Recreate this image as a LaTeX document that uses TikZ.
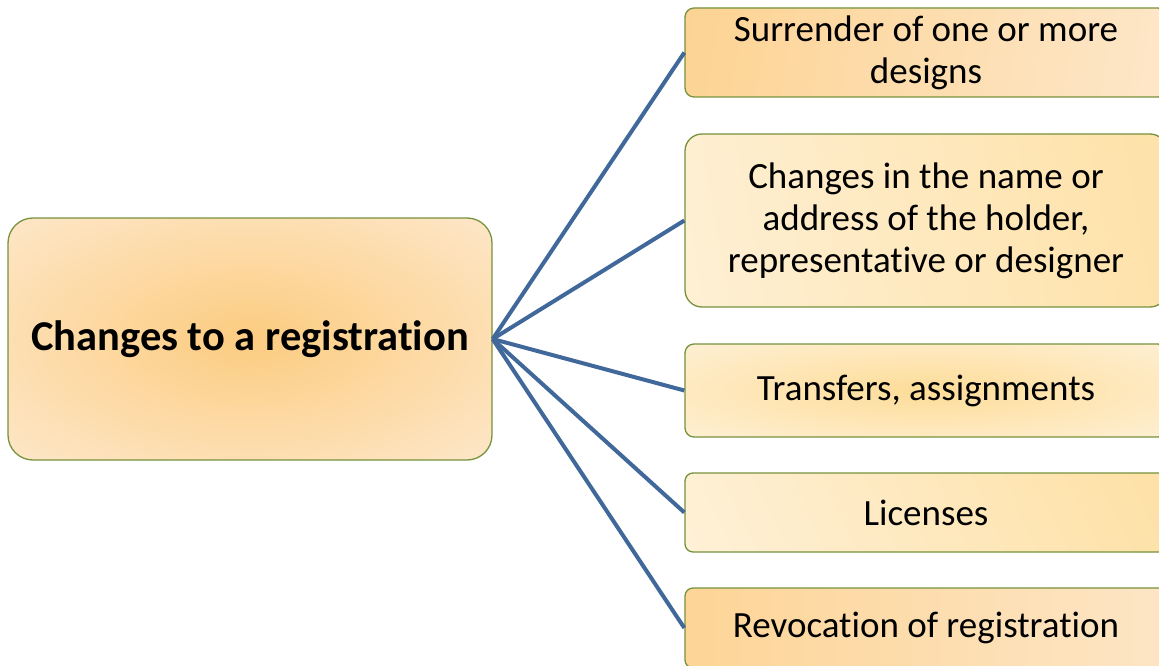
\documentclass[tikz,border=0pt]{standalone}
\usepackage{fontspec}
\setmainfont[Ligatures=NoCommon]{Carlito}
\definecolor{orng}{RGB}{252,204,128}
\definecolor{lite}{RGB}{254,238,220}
\definecolor{ylw}{RGB}{253,220,152}
\definecolor{lite2}{RGB}{255,245,228}
\definecolor{bordr}{RGB}{118,146,60}
\definecolor{lnk}{RGB}{65,104,154}
\pgfdeclareradialshading{radmain}{\pgfpoint{0bp}{0bp}}{color(0bp)=(orng); color(45bp)=(lite); color(75bp)=(lite)}
\pgfdeclareradialshading{radylw}{\pgfpoint{0bp}{0bp}}{color(0bp)=(ylw); color(45bp)=(lite2); color(75bp)=(lite2)}
\pgfdeclarehorizontalshading{horl}{100bp}{color(0bp)=(orng); color(100bp)=(lite)}
\pgfdeclarehorizontalshading{hlty}{100bp}{color(0bp)=(lite2); color(100bp)=(ylw)}
\begin{document}
\begin{tikzpicture}[x=1pt,y=-1pt,
  boxbase/.style={draw=bordr, line width=1.3pt, align=center, inner sep=0pt,
    text=black, font=\fontsize{37}{42}\selectfont},
  mainbox/.style={boxbase, minimum width=484pt, minimum height=242pt,
    rounded corners=25pt, shading=radmain,
    font=\fontsize{42.5}{50}\selectfont\bfseries},
  sidebox/.style={boxbase, minimum width=482pt},
  link/.style={draw=lnk, line width=4pt}]
\useasboundingbox (0,0) rectangle (1159,666);
\clip (0,0) rectangle (1159,666);
\node[mainbox] (main) at (250,339) {Changes to a registration};
\node[sidebox, minimum height=89pt, rounded corners=9pt,
  shading=horl, shading angle=-10] (b1) at (926,52.5)
  {Surrender of one or more\\designs};
\node[sidebox, minimum height=173pt, rounded corners=17pt,
  shading=hlty, shading angle=10] (b2) at (926,220.5)
  {Changes in the name or\\address of the holder,\\representative or designer};
\node[sidebox, minimum height=93pt, rounded corners=9pt,
  shading=radylw] (b3) at (926,390.5)
  {Transfers, assignments};
\node[sidebox, minimum height=79pt, rounded corners=8pt,
  shading=hlty, shading angle=25] (b4) at (926,512.5)
  {Licenses};
\node[sidebox, minimum height=80pt, rounded corners=8pt,
  shading=horl] (b5) at (926,628)
  {Revocation of registration};
\foreach \b in {b1,b2,b3,b4,b5}
  \draw[link] (main.east) -- (\b.west);
\end{tikzpicture}
\end{document}
